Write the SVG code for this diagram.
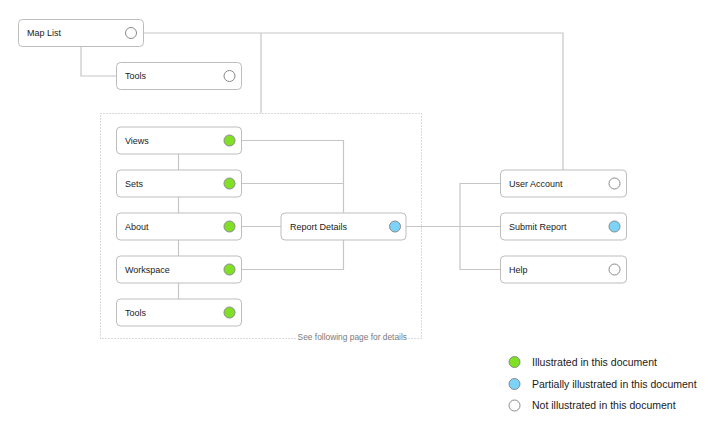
<svg xmlns="http://www.w3.org/2000/svg" width="714" height="434" viewBox="0 0 714 434">
<style>
.box{fill:#fff;stroke:#bdbdbd;stroke-width:1}
.lbl{font-family:"Liberation Sans",Arial,sans-serif;font-size:9px;fill:#1a1a1a}
.leg{font-family:"Liberation Sans",Arial,sans-serif;font-size:10.5px;fill:#1a1a1a}
.g{fill:#7fe024;stroke:#8a8a8a;stroke-width:1}
.b{fill:#7dd3f7;stroke:#8a8a8a;stroke-width:1}
.w{fill:#fff;stroke:#8a8a8a;stroke-width:1}
.c{fill:none;stroke:#c6c6c6;stroke-width:1.2}
</style>
<rect width="714" height="434" fill="#fff"/>
<rect x="100.5" y="113.5" width="321" height="225" fill="none" stroke="#b5b5b5" stroke-width="1" stroke-dasharray="1 2"/>
<text x="407" y="339.5" text-anchor="end" font-family="Liberation Sans,Arial,sans-serif" font-size="8.4" fill="#7a7a7a" stroke="#fff" stroke-width="3" paint-order="stroke">See following page for details</text>
<g id="connectors">
<path class="c" d="M143 33 H563 V170"/>
<path class="c" d="M261 33 V113"/>
<path class="c" d="M81 46 V76 H116"/>
<path class="c" d="M178.5 154 V299"/>
<path class="c" d="M241 140.5 H343.5 V212.5"/>
<path class="c" d="M241 183.5 H343.5"/>
<path class="c" d="M241 226.5 H281"/>
<path class="c" d="M241 269.5 H343.5 V240"/>
<path class="c" d="M406 226.5 H500"/>
<path class="c" d="M500 183.5 H460 V269.5 H500"/>
</g>
<g id="map-list"><rect class="box" x="18.5" y="19.5" width="125" height="27" rx="4"/><text class="lbl" x="27" y="36">Map List</text><circle class="w" cx="131" cy="33" r="5.5"/></g>
<g id="tools-top"><rect class="box" x="116.5" y="62.5" width="125" height="27" rx="4"/><text class="lbl" x="125" y="79">Tools</text><circle class="w" cx="229.5" cy="76" r="5.5"/></g>
<g id="views"><rect class="box" x="116.5" y="127" width="125" height="27" rx="4"/><text class="lbl" x="125" y="144">Views</text><circle class="g" cx="229.5" cy="140.5" r="5.5"/></g>
<g id="sets"><rect class="box" x="116.5" y="170" width="125" height="27" rx="4"/><text class="lbl" x="125" y="187">Sets</text><circle class="g" cx="229.5" cy="183.5" r="5.5"/></g>
<g id="about"><rect class="box" x="116.5" y="213" width="125" height="27" rx="4"/><text class="lbl" x="125" y="230">About</text><circle class="g" cx="229.5" cy="226.5" r="5.5"/></g>
<g id="workspace"><rect class="box" x="116.5" y="256" width="125" height="27" rx="4"/><text class="lbl" x="125" y="273">Workspace</text><circle class="g" cx="229.5" cy="269.5" r="5.5"/></g>
<g id="tools"><rect class="box" x="116.5" y="299" width="125" height="27" rx="4"/><text class="lbl" x="125" y="316">Tools</text><circle class="g" cx="229.5" cy="312.5" r="5.5"/></g>
<g id="report-details"><rect class="box" x="281" y="213" width="125" height="27" rx="4"/><text class="lbl" x="290" y="230">Report Details</text><circle class="b" cx="395" cy="226.5" r="5.5"/></g>
<g id="user-account"><rect class="box" x="500.5" y="170" width="126" height="27" rx="4"/><text class="lbl" x="509" y="187">User Account</text><circle class="w" cx="614.5" cy="183.5" r="5.5"/></g>
<g id="submit-report"><rect class="box" x="500.5" y="213" width="126" height="27" rx="4"/><text class="lbl" x="509" y="230">Submit Report</text><circle class="b" cx="614.5" cy="226.5" r="5.5"/></g>
<g id="help"><rect class="box" x="500.5" y="256" width="126" height="27" rx="4"/><text class="lbl" x="509" y="273">Help</text><circle class="w" cx="614.5" cy="269.5" r="5.5"/></g>
<g id="legend">
<circle class="g" cx="514.5" cy="362" r="5.5"/><text class="leg" x="532" y="365.5">Illustrated in this document</text>
<circle class="b" cx="514.5" cy="384" r="5.5"/><text class="leg" x="532" y="387.5">Partially illustrated in this document</text>
<circle class="w" cx="514.5" cy="405.5" r="5.5"/><text class="leg" x="532" y="409">Not illustrated in this document</text>
</g>
</svg>
